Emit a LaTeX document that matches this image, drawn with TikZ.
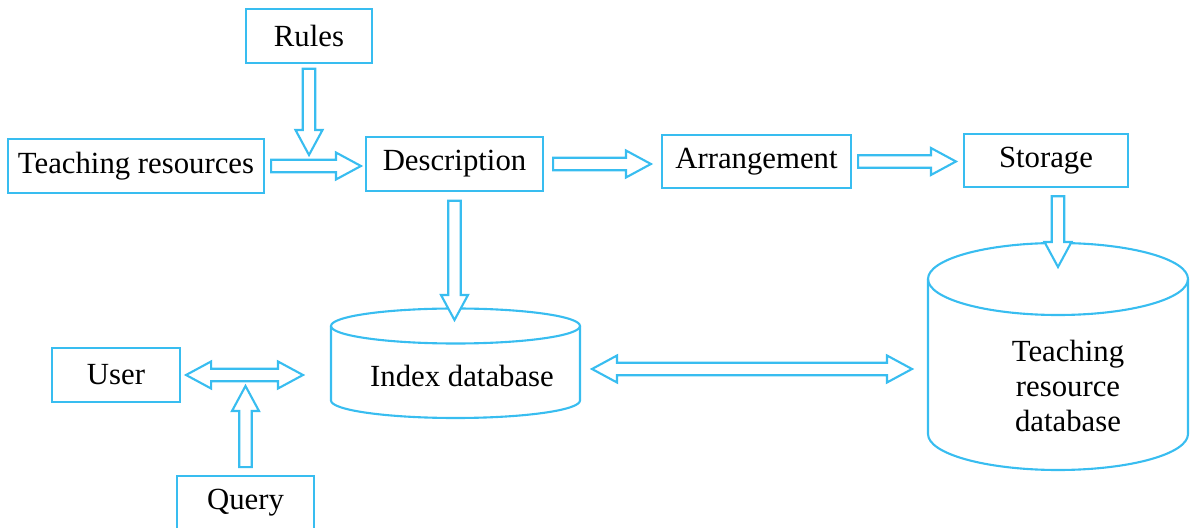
\documentclass[tikz,border=0pt]{standalone}
\usepackage{fontspec}
\setmainfont{Liberation Serif}
\usetikzlibrary{calc}
\definecolor{lineblue}{RGB}{56,189,240}

\begin{document}
\begin{tikzpicture}[
		box/.style={draw=lineblue, line width=1.2pt, minimum height=1.07cm, inner sep=0pt, font=\fontsize{17.5}{19.5}\selectfont},
		dbline/.style={draw=lineblue, line width=1.2pt},
		dbtext/.style={align=center, font=\fontsize{17.5}{20}\selectfont},
		blockarrow/.style={draw=lineblue, line width=1.2pt, fill=white, line join=miter,
			to path={let \p1=(\tikztostart), \p2=(\tikztotarget),
				\n1={atan2(\y2-\y1,\x2-\x1)}, \n2={\n1+90}, \n3={\n1-90},
				\p3=($(\p2)!0.5cm!(\p1)$) in
				($(\p1)+(\n2:0.125cm)$) -- ($(\p3)+(\n2:0.125cm)$) -- ($(\p3)+(\n2:0.27cm)$)
				-- (\p2) -- ($(\p3)+(\n3:0.27cm)$) -- ($(\p3)+(\n3:0.125cm)$)
				-- ($(\p1)+(\n3:0.125cm)$) -- cycle}},
		dblarrow/.style={draw=lineblue, line width=1.2pt, fill=white, line join=miter,
			to path={let \p1=(\tikztostart), \p2=(\tikztotarget),
				\n1={atan2(\y2-\y1,\x2-\x1)}, \n2={\n1+90}, \n3={\n1-90},
				\p3=($(\p2)!0.5cm!(\p1)$), \p4=($(\p1)!0.5cm!(\p2)$) in
				(\p1) -- ($(\p4)+(\n2:0.27cm)$) -- ($(\p4)+(\n2:0.125cm)$)
				-- ($(\p3)+(\n2:0.125cm)$) -- ($(\p3)+(\n2:0.27cm)$)
				-- (\p2) -- ($(\p3)+(\n3:0.27cm)$) -- ($(\p3)+(\n3:0.125cm)$)
				-- ($(\p4)+(\n3:0.125cm)$) -- ($(\p4)+(\n3:0.27cm)$) -- cycle}}
	]
		\useasboundingbox (0, 0) rectangle (23.8, 10.56);
		
		\node[box, minimum width=2.52cm] (rules) at (6.18, 9.84) {Rules};
		\node[box, minimum width=5.12cm] (teach) at (2.72, 7.24) {Teaching resources};
		\node[box, minimum width=3.54cm] (desc) at (9.09, 7.28) {Description};
		\node[box, minimum width=3.78cm] (arrange) at (15.13, 7.33) {Arrangement};
		\node[box, minimum width=3.28cm] (storage) at (20.92, 7.35) {Storage};
		\node[box, minimum width=2.56cm] (user) at (2.32, 3.06) {User};
		\node[box, minimum width=2.74cm] (query) at (4.91, 0.5) {Query};
		
		\draw[dbline] (6.62, 4.04) -- (6.62, 2.55) arc[start angle=180, end angle=360, x radius=2.49, y radius=0.35] -- (11.6, 4.04);
		\draw[dbline] (9.11, 4.04) ellipse [x radius=2.49, y radius=0.35];
		\coordinate (idxtop) at (9.11, 4.04);
		\coordinate (idxw) at (6.62, 3.06);
		\coordinate (idxe) at (11.6, 3.18);
		\node[dbtext] (idx) at (9.24, 3.04) {Index database};
		
		\draw[dbline] (18.56, 4.98) -- (18.56, 1.88) arc[start angle=180, end angle=360, x radius=2.6, y radius=0.72] -- (23.76, 4.98);
		\draw[dbline] (21.16, 4.98) ellipse [x radius=2.6, y radius=0.72];
		\coordinate (dbtop) at (21.16, 4.98);
		\coordinate (dbw) at (18.56, 3.18);
		\node[dbtext] (trdb) at (21.36, 2.84) {Teaching\\resource\\database};
		
		\draw[blockarrow] ([yshift=-0.1cm]rules.south) to ([yshift=0.22cm]rules.south |- teach.east);
		\draw[blockarrow] ([xshift=0.12cm]teach.east) to ([xshift=-0.08cm]teach.east -| desc.west);
		\draw[blockarrow] ([xshift=0.18cm]desc.east) to ([xshift=-0.2cm]desc.east -| arrange.west);
		\draw[blockarrow] ([xshift=0.12cm]arrange.east) to ([xshift=-0.14cm]arrange.east -| storage.west);
		\draw[blockarrow] ([yshift=-0.16cm]storage.south -| dbtop) to ([yshift=0.24cm]dbtop);
		\draw[blockarrow] ([yshift=-0.18cm]desc.south) to ([yshift=0.12cm]desc.south |- idxtop);
		\draw[dblarrow] ([xshift=0.24cm]idxe) to ([xshift=-0.32cm]dbw);
		\draw[dblarrow] ([xshift=0.1cm]user.east) to ([xshift=-0.56cm]user.east -| idxw);
		\draw[blockarrow] ([yshift=0.16cm]query.north) to ([yshift=-0.22cm]query.north |- user.east);
	\end{tikzpicture}
\end{document}
